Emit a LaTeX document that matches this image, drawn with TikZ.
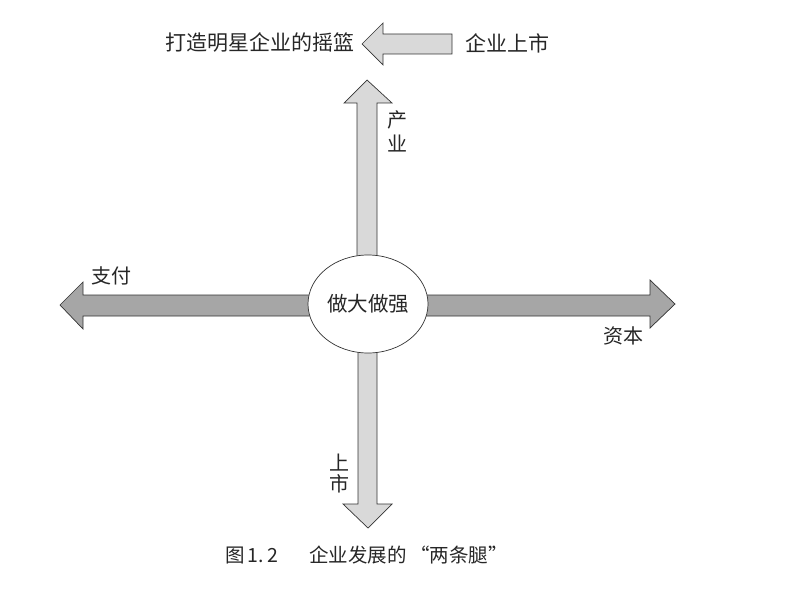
\documentclass[tikz,border=0pt]{standalone}
\usepackage{fontspec}
\usetikzlibrary{shapes.geometric}
\setmainfont{Noto Sans CJK SC}
\newfontfamily\cjk{Noto Sans CJK SC}
\definecolor{lightfill}{HTML}{D9D9D9}
\definecolor{darkfill}{HTML}{A6A6A6}
\definecolor{edge}{HTML}{333333}
\begin{document}
\begin{tikzpicture}[x=1pt,y=-1pt,
  blockarrow/.style={draw=edge,line width=0.7pt,line join=miter},
  lbl/.style={inner sep=0pt,font=\cjk\fontsize{20}{22}\selectfont,text=black!85}]
\useasboundingbox (0,0) rectangle (791,596);
% top horizontal arrow (left pointing)
\draw[blockarrow,fill=lightfill] (362,44) -- (383,23) -- (383,34) -- (452,34) -- (452,54) -- (383,54) -- (383,65) -- cycle;
% up arrow
\draw[blockarrow,fill=lightfill] (367,80) -- (392,103) -- (377,103) -- (377,304) -- (357,304) -- (357,103) -- (344,103) -- cycle;
% down arrow
\draw[blockarrow,fill=lightfill] (368,528) -- (392,504) -- (377,504) -- (377,304) -- (358,304) -- (358,504) -- (343,504) -- cycle;
% left arrow
\draw[blockarrow,fill=darkfill] (60,305) -- (83,282) -- (83,295) -- (368,295) -- (368,316) -- (83,316) -- (83,329) -- cycle;
% right arrow
\draw[blockarrow,fill=darkfill] (675,304) -- (650,280) -- (650,295) -- (368,295) -- (368,316) -- (650,316) -- (650,328) -- cycle;
% centre ellipse
\node[draw=edge,line width=0.7pt,fill=white,ellipse,minimum width=120pt,minimum height=98pt,inner sep=0pt] (c) at (368,304) {};
\node[lbl,font=\cjk\fontsize{20.5}{22}\selectfont] (ctext) at (368,304) {做大做强};
% labels
\node[lbl,font=\cjk\fontsize{21}{22}\selectfont,anchor=east] (cradle) at (355,43) {打造明星企业的摇篮};
\node[lbl,font=\cjk\fontsize{21}{22}\selectfont,anchor=west] (ipo) at (465,43) {企业上市};
\node[lbl] (ind1) at (397,120) {产};
\node[lbl] (ind2) at (397,143) {业};
\node[lbl] (pay) at (111,276) {支付};
\node[lbl] (cap) at (623,336) {资本};
\node[lbl] (ss1) at (339,463) {上};
\node[lbl] (ss2) at (339,484) {市};
\node[lbl,font=\cjk\fontsize{19.5}{22}\selectfont,anchor=west] (caption) at (225,555) {图\,1.\,2\hspace{1.6em}企业发展的\,“两条腿”};
\end{tikzpicture}
\end{document}
